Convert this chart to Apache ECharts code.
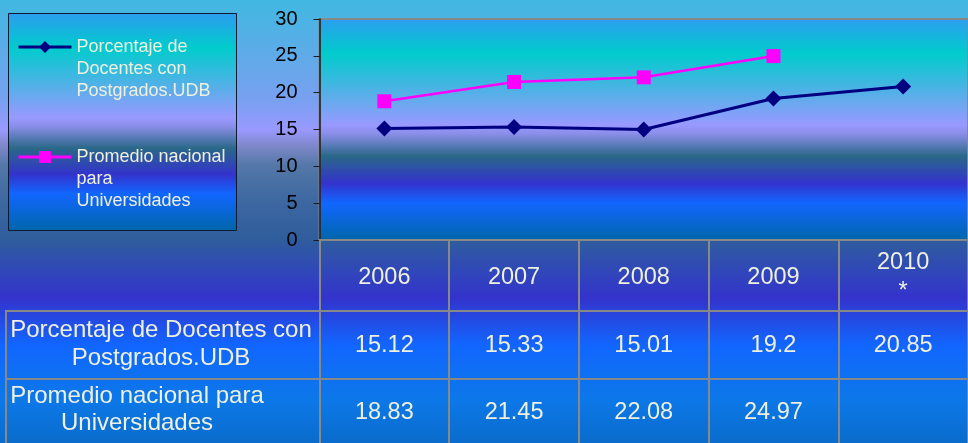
<!DOCTYPE html>
<html>
<head>
<meta charset="utf-8">
<script src="https://cdn.jsdelivr.net/npm/echarts@6.0.0/dist/echarts.min.js"></script>
<style>
  html, body { margin: 0; padding: 0; }
  #main { width: 968px; height: 443px; }
</style>
</head>
<body>
<div id="main"></div>
<script>
// datos
const years = ['2006', '2007', '2008', '2009', '2010'];
const yearLabels = ['2006', '2007', '2008', '2009', '2010\n*'];
const udb = [15.12, 15.33, 15.01, 19.2, 20.85];
const nacional = [18.83, 21.45, 22.08, 24.97, null];
const seriesNames = ['Porcentaje de Docentes con Postgrados.UDB', 'Promedio nacional para Universidades'];
// dos lineas vacias delante para que el icono quede en la primera linea
const legendLabels = ['\n\nPorcentaje de\nDocentes con\nPostgrados.UDB', '\n\nPromedio nacional\npara\nUniversidades'];
const rowLabels = ['Porcentaje de Docentes con\nPostgrados.UDB', 'Promedio nacional para\nUniversidades'];

const textColor = '#eef0e0';
const gridColor = '#888888';
const font = 'Liberation Sans, Arial, sans-serif';

// degradado tipo "oceano" (area del grafico y leyenda)
const stops = [
  { offset: 0, color: '#2d9cf0' },
  { offset: 0.16, color: '#00cccc' },
  { offset: 0.48, color: '#9999ff' },
  { offset: 0.52, color: '#8a8ee8' },
  { offset: 0.62, color: '#2a6888' },
  { offset: 0.74, color: '#3333cc' },
  { offset: 0.83, color: '#1166ff' },
  { offset: 1, color: '#0066a8' }
];
// fondo de la diapositiva (mismo degradado, mas estirado)
const slideStops = [
  { offset: 0, color: '#40b8e0' },
  { offset: 100 / 443, color: '#78a0f0' },
  { offset: 130 / 443, color: '#9999ff' },
  { offset: 145 / 443, color: '#8088cc' },
  { offset: 165 / 443, color: '#5478a8' },
  { offset: 200 / 443, color: '#3d68a0' },
  { offset: 240 / 443, color: '#2f5c9c' },
  { offset: 270 / 443, color: '#3048b8' },
  { offset: 298 / 443, color: '#3333cc' },
  { offset: 345 / 443, color: '#1166ff' },
  { offset: 400 / 443, color: '#0c78e8' },
  { offset: 1, color: '#0a6ccc' }
];
const grad = s => new echarts.graphic.LinearGradient(0, 0, 0, 1, s);

const fmt = v => (v === null || v === undefined) ? '' : String(v);

const myChart = echarts.init(document.getElementById('main'));

myChart.setOption({
  animation: false,
  textStyle: { fontFamily: font },
  legend: {
    orient: 'vertical',
    left: 17,
    top: -8,
    padding: 0,
    itemGap: 0,
    itemWidth: 53,
    itemHeight: 15,
    selectedMode: false,
    data: seriesNames,
    formatter: name => legendLabels[seriesNames.indexOf(name)],
    lineStyle: { width: 3 },
    textStyle: {
      color: textColor,
      fontSize: 18,
      lineHeight: 22
    }
  },
  grid: {
    left: 319.5,
    top: 19,
    right: -5,
    bottom: 203,
    show: true,
    backgroundColor: grad(stops),
    borderColor: gridColor,
    borderWidth: 2
  },
  xAxis: [
    {
      type: 'category',
      data: years,
      position: 'bottom',
      axisLine: { onZero: false, lineStyle: { color: gridColor, width: 2 } },
      axisTick: { show: true, length: 205, lineStyle: { color: gridColor, width: 2 } },
      axisLabel: {
        interval: 0,
        color: textColor,
        fontSize: 23.5,
        lineHeight: 29,
        verticalAlign: 'middle',
        margin: 37.5,
        formatter: (v, i) => yearLabels[i]
      }
    },
    {
      type: 'category',
      data: years,
      position: 'bottom',
      axisLine: { show: false, onZero: false },
      axisTick: { show: false },
      axisLabel: {
        interval: 0,
        color: textColor,
        fontSize: 23.5,
        verticalAlign: 'middle',
        margin: 106,
        formatter: (v, i) => fmt(udb[i])
      }
    },
    {
      type: 'category',
      data: years,
      position: 'bottom',
      axisLine: { show: false, onZero: false },
      axisTick: { show: false },
      axisLabel: {
        interval: 0,
        color: textColor,
        fontSize: 23.5,
        verticalAlign: 'middle',
        margin: 173,
        formatter: (v, i) => fmt(nacional[i])
      }
    }
  ],
  yAxis: {
    type: 'value',
    min: 0,
    max: 30,
    interval: 5,
    axisLine: { show: true, lineStyle: { color: '#1a1a1a', width: 1.5 } },
    axisTick: { show: true, length: 6, lineStyle: { color: '#1a1a1a' } },
    axisLabel: { color: '#000', fontSize: 20, margin: 22 },
    splitLine: { show: false }
  },
  graphic: [
    {
      type: 'rect', z: -100, silent: true,
      shape: { x: 0, y: 0, width: 968, height: 443 },
      style: { fill: grad(slideStops) }
    },
    {
      type: 'rect', z: -50, silent: true,
      shape: { x: 8.5, y: 13.5, width: 228, height: 217 },
      style: { fill: grad(stops), stroke: '#0d1a33', lineWidth: 1 }
    },
    {
      type: 'line', silent: true,
      shape: { x1: 6, y1: 311, x2: 968, y2: 311 },
      style: { stroke: gridColor, lineWidth: 2 }
    },
    {
      type: 'line', silent: true,
      shape: { x1: 6, y1: 379, x2: 968, y2: 379 },
      style: { stroke: gridColor, lineWidth: 2 }
    },
    {
      type: 'line', silent: true,
      shape: { x1: 6, y1: 310, x2: 6, y2: 443 },
      style: { stroke: gridColor, lineWidth: 2 }
    },
    {
      type: 'text', silent: true,
      x: 161, y: 344,
      style: {
        text: rowLabels[0], fill: textColor, fontSize: 24, lineHeight: 28,
        fontFamily: font, align: 'center', verticalAlign: 'middle'
      }
    },
    {
      type: 'text', silent: true,
      x: 137, y: 410,
      style: {
        text: rowLabels[1], fill: textColor, fontSize: 24, lineHeight: 27,
        fontFamily: font, align: 'center', verticalAlign: 'middle'
      }
    }
  ],
  series: [
    {
      name: seriesNames[0],
      type: 'line',
      data: udb,
      symbol: 'diamond',
      symbolSize: 16,
      color: '#000080',
      lineStyle: { color: '#000080', width: 3 },
      itemStyle: { color: '#000080' }
    },
    {
      name: seriesNames[1],
      type: 'line',
      data: nacional,
      symbol: 'rect',
      symbolSize: 14,
      color: '#ff00ff',
      lineStyle: { color: '#ff00ff', width: 2.5 },
      itemStyle: { color: '#ff00ff' }
    }
  ]
});
</script>
</body>
</html>
